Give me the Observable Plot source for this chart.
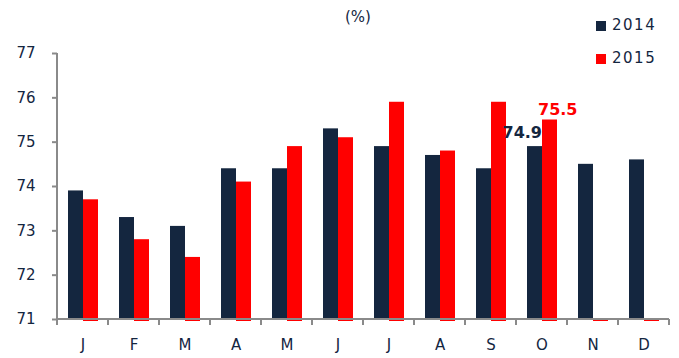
<!DOCTYPE html>
<html><head><meta charset="utf-8">
<script src="https://cdn.jsdelivr.net/npm/d3@7"></script>
<script src="https://cdn.jsdelivr.net/npm/@observablehq/plot@0.6"></script>
<style>
body{margin:0;background:#fff}
#wrap{position:relative;width:679px;height:358px;font-family:"DejaVu Sans",sans-serif;color:#14263f}
.unit{position:absolute;left:330px;top:8px;width:56px;text-align:center;font-size:15px}
.lg{position:absolute;left:596px;font-size:15px;letter-spacing:1.5px;line-height:16px}
.lg i{display:inline-block;width:10px;height:10px;margin-right:6px;vertical-align:-1px}
</style></head>
<body><div id="wrap"></div>
<script>
const monthIds = ["Jan","Feb","Mar","Apr","May","Jun","Jul","Aug","Sep","Oct","Nov","Dec"];
const monthLabels = ["J","F","M","A","M","J","J","A","S","O","N","D"];
const values2014 = [73.9,73.3,73.1,74.4,74.4,75.3,74.9,74.7,74.4,74.9,74.5,74.6];
const values2015 = [73.7,72.8,72.4,74.1,74.9,75.1,75.9,74.8,75.9,75.5,0,0];
const yTicks = [71,72,73,74,75,76,77];
const seriesNames = ["2014","2015"];
const labelMonth = "Oct";
const label2014 = 74.9;
const label2015 = 75.5;

const navy = "#14263f", red = "#ff0000", gray = "#8a8a8a";
const rows = monthIds.map((m,i)=>({month:m, v2014:values2014[i], v2015:values2015[i]}));

function bandTicks(index, scales, values, dims) {
  const x = scales.x, y = scales.y;
  const step = x.step ? x.step() : (dims.width - dims.marginLeft - dims.marginRight)/monthIds.length;
  const edges = monthIds.map(m => x(m)).concat([x(monthIds[monthIds.length-1]) + step]);
  const yb = y(yTicks[0]), yt = y(yTicks[yTicks.length-1]);
  let d = `M${edges[0]},${yt}V${yb}M${edges[0]},${yb}H${edges[edges.length-1]}`;
  for (const e of edges) d += `M${e},${yb}v6`;
  const p = document.createElementNS("http://www.w3.org/2000/svg","path");
  p.setAttribute("d", d);
  p.setAttribute("fill","none");
  p.setAttribute("stroke", gray);
  p.setAttribute("stroke-width", 2);
  return p;
}

const chart = Plot.plot({
  width: 679, height: 358,
  marginLeft: 57, marginRight: 10, marginTop: 53, marginBottom: 39,
  style: {fontFamily: "DejaVu Sans, sans-serif", fontSize: "15px", color: navy, background: "transparent"},
  x: {domain: monthIds, padding: 0, axis: null, label: null},
  y: {domain: [yTicks[0], yTicks[yTicks.length-1]], clamp: true, axis: null, label: null},
  marks: [
    Plot.barY(rows, {x: "month", y: "v2014", fill: navy, insetLeft: 11, insetRight: 25, insetBottom: -1}),
    Plot.barY(rows, {x: "month", y: "v2015", fill: red, insetLeft: 26, insetRight: 10, insetBottom: -2}),
    bandTicks,
    Plot.axisY(yTicks, {anchor: "left", label: null, tickSize: 5, tickPadding: 17, stroke: gray, strokeWidth: 2, fill: navy, fontSize: 15}),
    Plot.axisX({anchor: "bottom", label: null, tickSize: 0, tickPadding: 20, fill: navy, fontSize: 15,
      tickFormat: d => monthLabels[monthIds.indexOf(d)]}),
    Plot.text([label2014], {x: () => labelMonth, y: d => d, text: d => d.toFixed(1), textAnchor: "end",
      lineAnchor: "bottom", dy: -9, fontWeight: "bold", fontSize: 16, fill: navy}),
    Plot.text([label2015], {x: () => labelMonth, y: d => d, text: d => d.toFixed(1), textAnchor: "start",
      lineAnchor: "bottom", dx: -4, dy: -5, fontWeight: "bold", fontSize: 16, fill: red})
  ]
});
const wrap = document.getElementById("wrap");
wrap.appendChild(chart);
const unit = document.createElement("div");
unit.className = "unit"; unit.textContent = "(%)";
wrap.appendChild(unit);
[[seriesNames[0], navy, 17],[seriesNames[1], red, 50]].forEach(([n,c,t])=>{
  const d = document.createElement("div");
  d.className = "lg"; d.style.top = t + "px";
  d.innerHTML = `<i style="background:${c}"></i>${n}`;
  wrap.appendChild(d);
});
</script></body></html>
